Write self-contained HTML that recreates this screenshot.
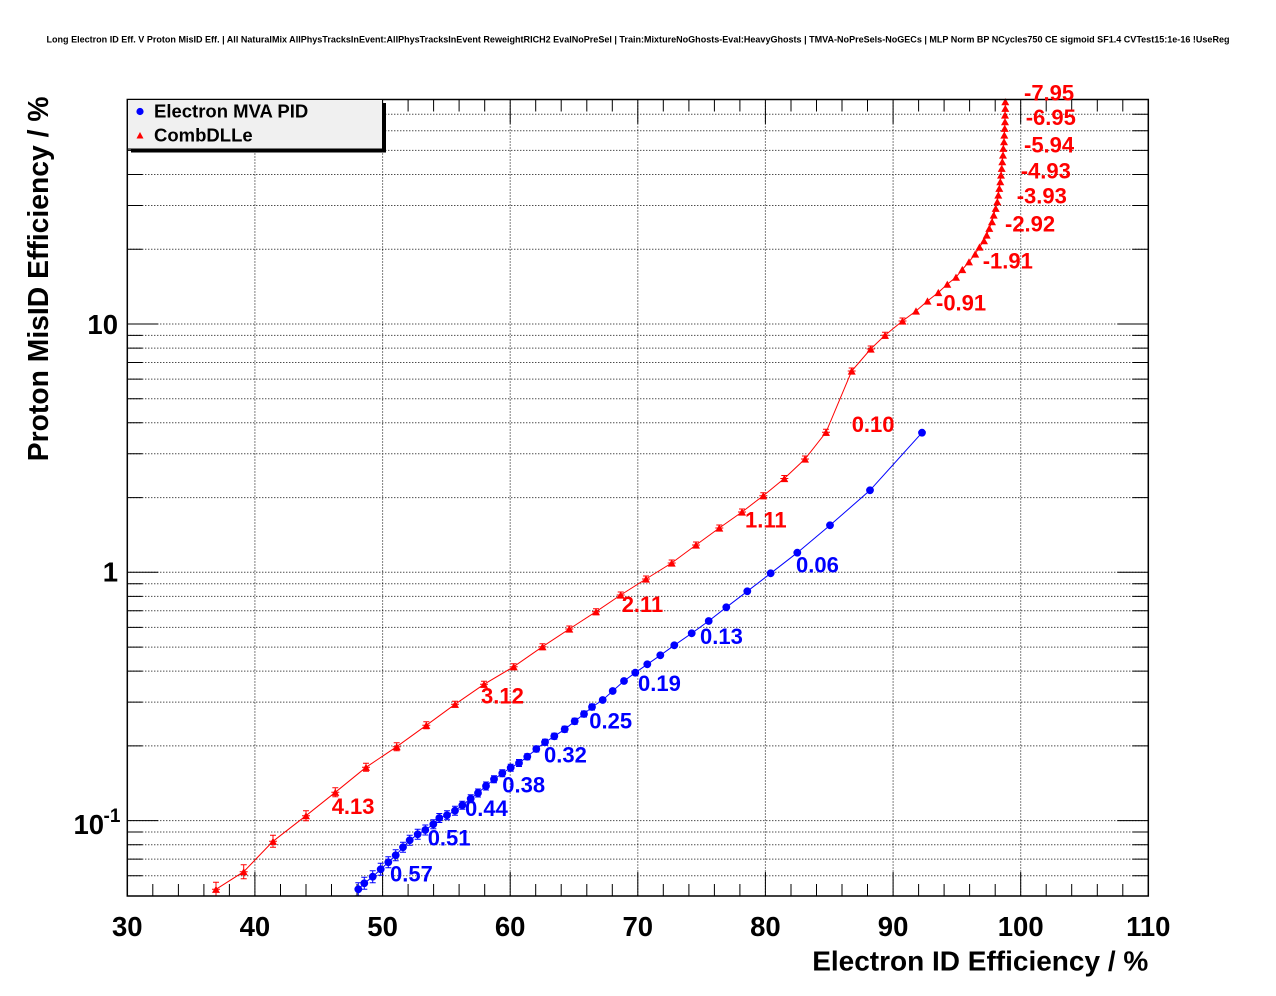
<!DOCTYPE html>
<html>
<head>
<meta charset="utf-8">
<style>
html,body{margin:0;padding:0;background:#fff;}
svg{display:block;}
text{font-family:"Liberation Sans",Arial,sans-serif;font-weight:bold;}
</style>
</head>
<body>
<svg width="1276" height="996" viewBox="0 0 1276 996" xmlns="http://www.w3.org/2000/svg">
<defs>
  <clipPath id="fr"><rect x="127.3" y="96" width="1021" height="800"/></clipPath>
  <marker id="tri" markerUnits="userSpaceOnUse" markerWidth="10" markerHeight="10" refX="5" refY="5" overflow="visible">
    <path d="M1 8.6 L5 1.4 L9 8.6 Z" fill="#ff0000"/>
  </marker>
  <marker id="dot" markerUnits="userSpaceOnUse" markerWidth="10" markerHeight="10" refX="5" refY="5" overflow="visible">
    <circle cx="5" cy="5" r="3.9" fill="#0000ff"/>
  </marker>
</defs>
<rect width="1276" height="996" fill="#fff"/>

<!-- title -->
<text x="638" y="42.5" text-anchor="middle" font-size="9.5" textLength="1183" lengthAdjust="spacingAndGlyphs">Long Electron ID Eff. V Proton MisID Eff. | All NaturalMix AllPhysTracksInEvent:AllPhysTracksInEvent ReweightRICH2 EvalNoPreSel | Train:MixtureNoGhosts-Eval:HeavyGhosts | TMVA-NoPreSels-NoGECs | MLP Norm BP NCycles750 CE sigmoid SF1.4 CVTest15:1e-16 !UseReg</text>

<!-- grid -->
<g stroke="#000" stroke-width="1" stroke-dasharray="1 2" fill="none">
  <path d="M254.9 99.5V896M382.6 99.5V896M510.2 99.5V896M637.8 99.5V896M765.4 99.5V896M893.1 99.5V896M1020.7 99.5V896"/>
  <path d="M127.3 875.7H1148.3M127.3 859.1H1148.3M127.3 844.7H1148.3M127.3 832H1148.3M127.3 820.6H1148.3M127.3 745.9H1148.3M127.3 702.1H1148.3M127.3 671.1H1148.3M127.3 647.1H1148.3M127.3 627.4H1148.3M127.3 610.8H1148.3M127.3 596.4H1148.3M127.3 583.7H1148.3M127.3 572.3H1148.3M127.3 497.6H1148.3M127.3 453.8H1148.3M127.3 422.8H1148.3M127.3 398.7H1148.3M127.3 379.1H1148.3M127.3 362.5H1148.3M127.3 348.1H1148.3M127.3 335.4H1148.3M127.3 324H1148.3M127.3 249.3H1148.3M127.3 205.5H1148.3M127.3 174.5H1148.3M127.3 150.4H1148.3M127.3 130.8H1148.3M127.3 114.2H1148.3"/>
</g>

<!-- ticks -->
<g stroke="#000" stroke-width="1" fill="none">
  <path d="M127.3 875.7h15M127.3 859.1h15M127.3 844.7h15M127.3 832h15M127.3 820.6h31M127.3 745.9h15M127.3 702.1h15M127.3 671.1h15M127.3 647.1h15M127.3 627.4h15M127.3 610.8h15M127.3 596.4h15M127.3 583.7h15M127.3 572.3h31M127.3 497.6h15M127.3 453.8h15M127.3 422.8h15M127.3 398.7h15M127.3 379.1h15M127.3 362.5h15M127.3 348.1h15M127.3 335.4h15M127.3 324h31M127.3 249.3h15M127.3 205.5h15M127.3 174.5h15M127.3 150.4h15M127.3 130.8h15M127.3 114.2h15"/>
  <path d="M1148.3 875.7h-16M1148.3 859.1h-16M1148.3 844.7h-16M1148.3 832h-16M1148.3 820.6h-31M1148.3 745.9h-16M1148.3 702.1h-16M1148.3 671.1h-16M1148.3 647.1h-16M1148.3 627.4h-16M1148.3 610.8h-16M1148.3 596.4h-16M1148.3 583.7h-16M1148.3 572.3h-31M1148.3 497.6h-16M1148.3 453.8h-16M1148.3 422.8h-16M1148.3 398.7h-16M1148.3 379.1h-16M1148.3 362.5h-16M1148.3 348.1h-16M1148.3 335.4h-16M1148.3 324h-31M1148.3 249.3h-16M1148.3 205.5h-16M1148.3 174.5h-16M1148.3 150.4h-16M1148.3 130.8h-16M1148.3 114.2h-16"/>
  <path d="M254.9 896v-24M382.6 896v-24M510.2 896v-24M637.8 896v-24M765.4 896v-24M893.1 896v-24M1020.7 896v-24M152.8 896v-12M178.4 896v-12M203.9 896v-12M229.4 896v-12M280.5 896v-12M306 896v-12M331.5 896v-12M357 896v-12M408.1 896v-12M433.6 896v-12M459.1 896v-12M484.7 896v-12M535.7 896v-12M561.2 896v-12M586.8 896v-12M612.3 896v-12M663.3 896v-12M688.9 896v-12M714.4 896v-12M739.9 896v-12M791 896v-12M816.5 896v-12M842 896v-12M867.5 896v-12M918.6 896v-12M944.1 896v-12M969.6 896v-12M995.2 896v-12M1046.2 896v-12M1071.7 896v-12M1097.3 896v-12M1122.8 896v-12"/>
  <path d="M254.9 99.5v24M382.6 99.5v24M510.2 99.5v24M637.8 99.5v24M765.4 99.5v24M893.1 99.5v24M1020.7 99.5v24M152.8 99.5v12M178.4 99.5v12M203.9 99.5v12M229.4 99.5v12M280.5 99.5v12M306 99.5v12M331.5 99.5v12M357 99.5v12M408.1 99.5v12M433.6 99.5v12M459.1 99.5v12M484.7 99.5v12M535.7 99.5v12M561.2 99.5v12M586.8 99.5v12M612.3 99.5v12M663.3 99.5v12M688.9 99.5v12M714.4 99.5v12M739.9 99.5v12M791 99.5v12M816.5 99.5v12M842 99.5v12M867.5 99.5v12M918.6 99.5v12M944.1 99.5v12M969.6 99.5v12M995.2 99.5v12M1046.2 99.5v12M1071.7 99.5v12M1097.3 99.5v12M1122.8 99.5v12"/>
</g>

<!-- data -->
<g clip-path="url(#fr)">
  <path stroke="#ff0000" stroke-width="1" fill="none" d="M216 882.3V896.3M213 882.3H219M213 896.3H219M243.7 864.7V878.7M240.7 864.7H246.7M240.7 878.7H246.7M273 835.3V847.3M270 835.3H276M270 847.3H276M306 810.7V820.7M303 810.7H309M303 820.7H309M335.3 787.8V796.8M332.3 787.8H338.3M332.3 796.8H338.3M366 763.3V771.3M363 763.3H369M363 771.3H369M396.7 742.7V750.7M393.7 742.7H399.7M393.7 750.7H399.7M426.3 721.8V728.8M423.3 721.8H429.3M423.3 728.8H429.3M455 701.3V707.3M452 701.3H458M452 707.3H458M484 681.3V687.3M481 681.3H487M481 687.3H487M513.7 663.7V669.7M510.7 663.7H516.7M510.7 669.7H516.7M542.5 643.7V649.7M539.5 643.7H545.5M539.5 649.7H545.5M569.3 626V632M566.3 626H572.3M566.3 632H572.3M596 608.7V614.7M593 608.7H599M593 614.7H599M620.7 592V598M617.7 592H623.7M617.7 598H623.7M646 576V582M643 576H649M643 582H649M671.7 560V566M668.7 560H674.7M668.7 566H674.7M696 542V548M693 542H699M693 548H699M719.3 525V531M716.3 525H722.3M716.3 531H722.3M742 509V515M739 509H745M739 515H745M763.3 492.7V498.7M760.3 492.7H766.3M760.3 498.7H766.3M784.3 475.5V481.5M781.3 475.5H787.3M781.3 481.5H787.3M805 456V462M802 456H808M802 462H808M826 429.3V435.3M823 429.3H829M823 435.3H829M851.7 368V374M848.7 368H854.7M848.7 374H854.7M870.7 346V352M867.7 346H873.7M867.7 352H873.7M885 332.3V338.3M882 332.3H888M882 338.3H888M902.5 318V324M899.5 318H905.5M899.5 324H905.5
  M212 889.3H220M239.7 871.7H247.7M269 841.3H277M302 815.7H310M331.3 792.3H339.3M362 767.3H370M392.7 746.7H400.7M422.3 725.3H430.3M451 704.3H459M480 684.3H488M509.7 666.7H517.7M538.5 646.7H546.5M565.3 629H573.3M592 611.7H600M616.7 595H624.7M642 579H650M667.7 563H675.7M692 545H700M715.3 528H723.3M738 512H746M759.3 495.7H767.3M780.3 478.5H788.3M801 459H809M822 432.3H830M847.7 371H855.7M866.7 349H874.7M881 335.3H889M898.5 321H906.5"/>
  <polyline fill="none" stroke="#ff0000" stroke-width="1" marker-start="url(#tri)" marker-mid="url(#tri)" marker-end="url(#tri)" points="216,889.3 243.7,871.7 273,841.3 306,815.7 335.3,792.3 366,767.3 396.7,746.7 426.3,725.3 455,704.3 484,684.3 513.7,666.7 542.5,646.7 569.3,629 596,611.7 620.7,595 646,579 671.7,563 696,545 719.3,528 742,512 763.3,495.7 784.3,478.5 805,459 826,432.3 851.7,371 870.7,349 885,335.3 902.5,321 916,311 927.5,301 938.3,292.5 947.3,284.2 956,277.2 962.3,269.5 969,261.8 975.2,254 979.5,247 984,240.7 986.7,235 989.3,228.3 992,221.7 993.7,215 995.7,208.3 997.3,201.7 998.3,195 999.3,188.3 1000.3,181.7 1001,175 1001.7,168.3 1002.3,161.7 1003,155 1003.3,148.3 1004,141.7 1004.3,135 1004.7,128.3 1005,121.7 1005,115 1005.3,108.3 1005.3,101.7"/>

  <path stroke="#0000ff" stroke-width="1" fill="none" d="M358.3 882.8V895.8M355.3 882.8H361.3M355.3 895.8H361.3M364.3 877.3V889.3M361.3 877.3H367.3M361.3 889.3H367.3M372.7 870.7V882.7M369.7 870.7H375.7M369.7 882.7H375.7M380.7 863.3V875.3M377.7 863.3H383.7M377.7 875.3H383.7M388.3 856.8V867.8M385.3 856.8H391.3M385.3 867.8H391.3M395.7 849.8V860.8M392.7 849.8H398.7M392.7 860.8H398.7M403 842.3V852.3M400 842.3H406M400 852.3H406M409.7 835.3V845.3M406.7 835.3H412.7M406.7 845.3H412.7M417.7 829.3V839.3M414.7 829.3H420.7M414.7 839.3H420.7M425.3 825V835M422.3 825H428.3M422.3 835H428.3M433.3 819.8V828.8M430.3 819.8H436.3M430.3 828.8H436.3M439.3 813.5V822.5M436.3 813.5H442.3M436.3 822.5H442.3M447 810.8V819.8M444 810.8H450M444 819.8H450M455 806.2V815.2M452 806.2H458M452 815.2H458M462.3 801.3V809.3M459.3 801.3H465.3M459.3 809.3H465.3M470.7 794.7V802.7M467.7 794.7H473.7M467.7 802.7H473.7M478 789V797M475 789H481M475 797H481M486 782V790M483 782H489M483 790H489M494 775.8V782.8M491 775.8H497M491 782.8H497M502.3 769.8V776.8M499.3 769.8H505.3M499.3 776.8H505.3M510.7 764.2V771.2M507.7 764.2H513.7M507.7 771.2H513.7M519 759.5V766.5M516 759.5H522M516 766.5H522M527.3 753.7V759.7M524.3 753.7H530.3M524.3 759.7H530.3M536.3 746V752M533.3 746H539.3M533.3 752H539.3M545 739.3V745.3M542 739.3H548M542 745.3H548M554.3 733.3V739.3M551.3 733.3H557.3M551.3 739.3H557.3M564.7 726.3V732.3M561.7 726.3H567.7M561.7 732.3H567.7M574.7 718.3V724.3M571.7 718.3H577.7M571.7 724.3H577.7M584 711V717M581 711H587M581 717H587M592 704V710M589 704H595M589 710H595"/>
  <polyline fill="none" stroke="#0000ff" stroke-width="1" marker-start="url(#dot)" marker-mid="url(#dot)" marker-end="url(#dot)" points="358.3,889.3 364.3,883.3 372.7,876.7 380.7,869.3 388.3,862.3 395.7,855.3 403,847.3 409.7,840.3 417.7,834.3 425.3,830 433.3,824.3 439.3,818 447,815.3 455,810.7 462.3,805.3 470.7,798.7 478,793 486,786 494,779.3 502.3,773.3 510.7,767.7 519,763 527.3,756.7 536.3,749 545,742.3 554.3,736.3 564.7,729.3 574.7,721.3 584,714 592,707 602.7,700 612.7,691 624,681 635.3,672.7 647.3,664.3 660.3,655.3 674.3,645.3 691.7,633.3 708.7,621 726.3,607.3 747.3,591.3 770.7,573.3 797.3,552.7 830,525.3 870,490.3 922,432.7"/>
</g>

<!-- frame -->
<rect x="127.3" y="99.5" width="1021" height="796.5" fill="none" stroke="#000" stroke-width="1.5"/>

<g fill="#ff0000" font-size="22">
  <text x="331.7" y="814">4.13</text>
  <text x="481" y="703.3">3.12</text>
  <text x="621.7" y="612">2.11</text>
  <text x="745" y="527.7">1.11</text>
  <text x="851.7" y="432">0.10</text>
  <text x="936" y="310.5">-0.91</text>
  <text x="982.7" y="268.3">-1.91</text>
  <text x="1005" y="231.7">-2.92</text>
  <text x="1016.7" y="203.3">-3.93</text>
  <text x="1020.7" y="178.3">-4.93</text>
  <text x="1024" y="152.7">-5.94</text>
  <text x="1025.7" y="125">-6.95</text>
  <text x="1024" y="100.7">-7.95</text>
</g>
<g fill="#0000ff" font-size="22">
  <text x="390" y="881.7">0.57</text>
  <text x="427.7" y="845.7">0.51</text>
  <text x="465" y="816">0.44</text>
  <text x="502.3" y="792.3">0.38</text>
  <text x="544" y="762.3">0.32</text>
  <text x="589.3" y="728.3">0.25</text>
  <text x="638" y="691">0.19</text>
  <text x="700" y="644">0.13</text>
  <text x="796" y="572.7">0.06</text>
</g>

<g fill="#000" font-size="27.5" text-anchor="middle">
  <text x="127.3" y="936">30</text>
  <text x="254.9" y="936">40</text>
  <text x="382.6" y="936">50</text>
  <text x="510.2" y="936">60</text>
  <text x="637.8" y="936">70</text>
  <text x="765.4" y="936">80</text>
  <text x="893.1" y="936">90</text>
  <text x="1020.7" y="936">100</text>
  <text x="1148.3" y="936">110</text>
</g>
<g fill="#000" font-size="27.5">
  <text x="118" y="334" text-anchor="end">10</text>
  <text x="118" y="581.5" text-anchor="end">1</text>
  <text x="73.5" y="834">10</text>
  <text x="103.5" y="822" font-size="19">-1</text>
</g>
<text x="1148.3" y="970.5" text-anchor="end" font-size="28" fill="#000">Electron ID Efficiency / %</text>
<text transform="translate(48,96.5) rotate(-90)" text-anchor="end" font-size="28.3" fill="#000">Proton MisID Efficiency / %</text>

<rect x="131" y="103" width="255" height="49.5" fill="#000"/>
<rect x="127.5" y="99.5" width="255" height="49.5" fill="#f0f0f0" stroke="#000" stroke-width="1"/>
<circle cx="140" cy="111.5" r="3.6" fill="#0000ff"/>
<path d="M136.5 138.5 L140 132 L143.5 138.5 Z" fill="#ff0000"/>
<text x="154" y="117.5" font-size="18.5" fill="#000">Electron MVA PID</text>
<text x="154" y="141.7" font-size="18.5" fill="#000">CombDLLe</text>
</svg>
</body>
</html>
